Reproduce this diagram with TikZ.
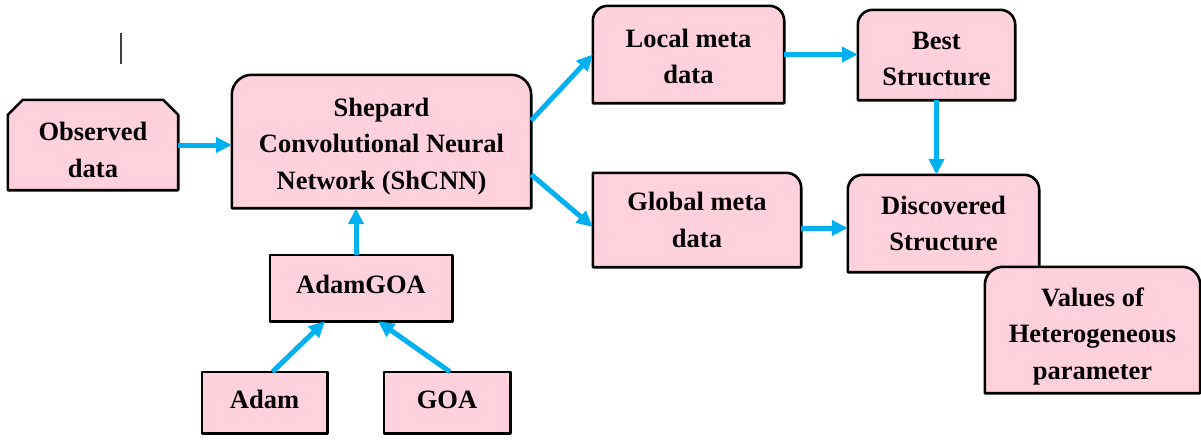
\documentclass[tikz,border=0pt]{standalone}
\usepackage{fontspec}
\setmainfont{Liberation Serif}
\usetikzlibrary{arrows.meta,calc,backgrounds}
\definecolor{boxpink}{RGB}{255,209,220}
\definecolor{flowblue}{RGB}{0,176,240}

% outline with both top corners rounded
\newcommand\toproundbox[2]{%
  \draw[outline] (#1.south west) [rounded corners=#2] -- (#1.north west)
    -- (#1.north east) [sharp corners] -- (#1.south east) -- cycle;}
% outline with only the top right corner rounded
\newcommand\nerounbox[2]{%
  \draw[outline] (#1.south west) -- (#1.north west) [rounded corners=#2]
    -- (#1.north east) [sharp corners] -- (#1.south east) -- cycle;}

\begin{document}
\begin{tikzpicture}[x=1pt,y=-1pt,
  block/.style n args={2}{inner sep=0pt, minimum width=#1pt, minimum height=#2pt},
  lbl/.style={inner sep=0pt, align=center,
    font=\fontsize{26.5}{36.5}\selectfont\bfseries},
  outline/.style={draw=black, line width=2.6pt, fill=boxpink, line join=round},
  flow/.style={draw=flowblue, line width=5pt,
    -{Triangle[length=16pt,width=15pt]}},
]
\useasboundingbox (0,0) rectangle (1201,439);

% block frames
\node[block={170}{90}]  (obs)   at (93,145)     {};
\node[block={299}{133}] (shep)  at (381.5,141.5) {};
\node[block={182}{66}]  (ag)    at (361,288)    {};
\node[block={125}{61}]  (adam)  at (264.5,402.5) {};
\node[block={126}{61}]  (goa)   at (447,402.5)  {};
\node[block={191}{97}]  (local) at (688.5,54.5) {};
\node[block={157}{90}]  (best)  at (936.5,55)   {};
\node[block={208}{94}]  (glob)  at (697,220)    {};
\node[block={191}{97}]  (disc)  at (943.5,223.5) {};
\node[block={215}{126}] (vals)  at (1092.5,330) {};

% block outlines
\begin{scope}[on background layer]
  \draw[outline] (obs.south west) -- ($(obs.north west)+(0,15)$)
    -- ($(obs.north west)+(15,0)$) -- ($(obs.north east)+(-15,0)$)
    -- ($(obs.north east)+(0,15)$) -- (obs.south east) -- cycle;
  \toproundbox{shep}{20pt}
  \draw[outline] (ag.south west) rectangle (ag.north east);
  \draw[outline] (adam.south west) rectangle (adam.north east);
  \draw[outline] (goa.south west) rectangle (goa.north east);
  \toproundbox{local}{15pt}
  \toproundbox{best}{15pt}
  \nerounbox{glob}{15pt}
  \toproundbox{disc}{15pt}
  \toproundbox{vals}{18pt}
\end{scope}

% block texts
\node[lbl] (obsTxt)   at ($(obs)+(0,5)$)   {Observed\\data};
\node[lbl] (shepTxt)  at ($(shep)+(0,5)$)  {Shepard\\Convolutional Neural\\Network (ShCNN)};
\node[lbl] (agTxt)    at ($(ag)+(0,-4)$)   {AdamGOA};
\node[lbl] (adamTxt)  at ($(adam)+(0,-3)$) {Adam};
\node[lbl] (goaTxt)   at ($(goa)+(0,-3)$)  {GOA};
\node[lbl] (localTxt) at ($(local)+(0,2)$) {Local meta\\data};
\node[lbl] (bestTxt)  at ($(best)+(0,4)$)  {Best\\Structure};
\node[lbl] (globTxt)  at (glob)            {Global meta\\data};
\node[lbl] (discTxt)  at (disc)            {Discovered\\Structure};
\node[lbl] (valsTxt)  at ($(vals)+(0,6)$)  {Values of\\Heterogeneous\\parameter};

% connectors
\draw[flow] (obs.east) -- (obs.east -| shep.west);
\draw[flow] ($(shep.east)+(0,-21)$) -- (local.west);
\draw[flow] ($(shep.east)+(0,33)$) -- ($(glob.west)+(0,7)$);
\draw[flow] (local.east) -- (local.east -| best.west);
\draw[flow] (best.south) -- (best.south |- disc.north);
\draw[flow] ($(glob.east)+(0,8)$) -- ($(glob.east -| disc.west)+(0,8)$);
\draw[flow] ($(ag.north)+(-5,0)$) -- ($(ag.north |- shep.south)+(-5,0)$);
\draw[flow] ($(adam.north)+(8,0)$) -- ($(ag.south)+(-36,0)$);
\draw[flow] ($(goa.north)+(3,0)$) -- ($(ag.south)+(17,0)$);

% short vertical stroke
\coordinate (barTop) at (121,33);
\coordinate (barBot) at (121,64);
\draw[line width=1.6pt, black!75] (barTop) -- (barBot);
\end{tikzpicture}
\end{document}
